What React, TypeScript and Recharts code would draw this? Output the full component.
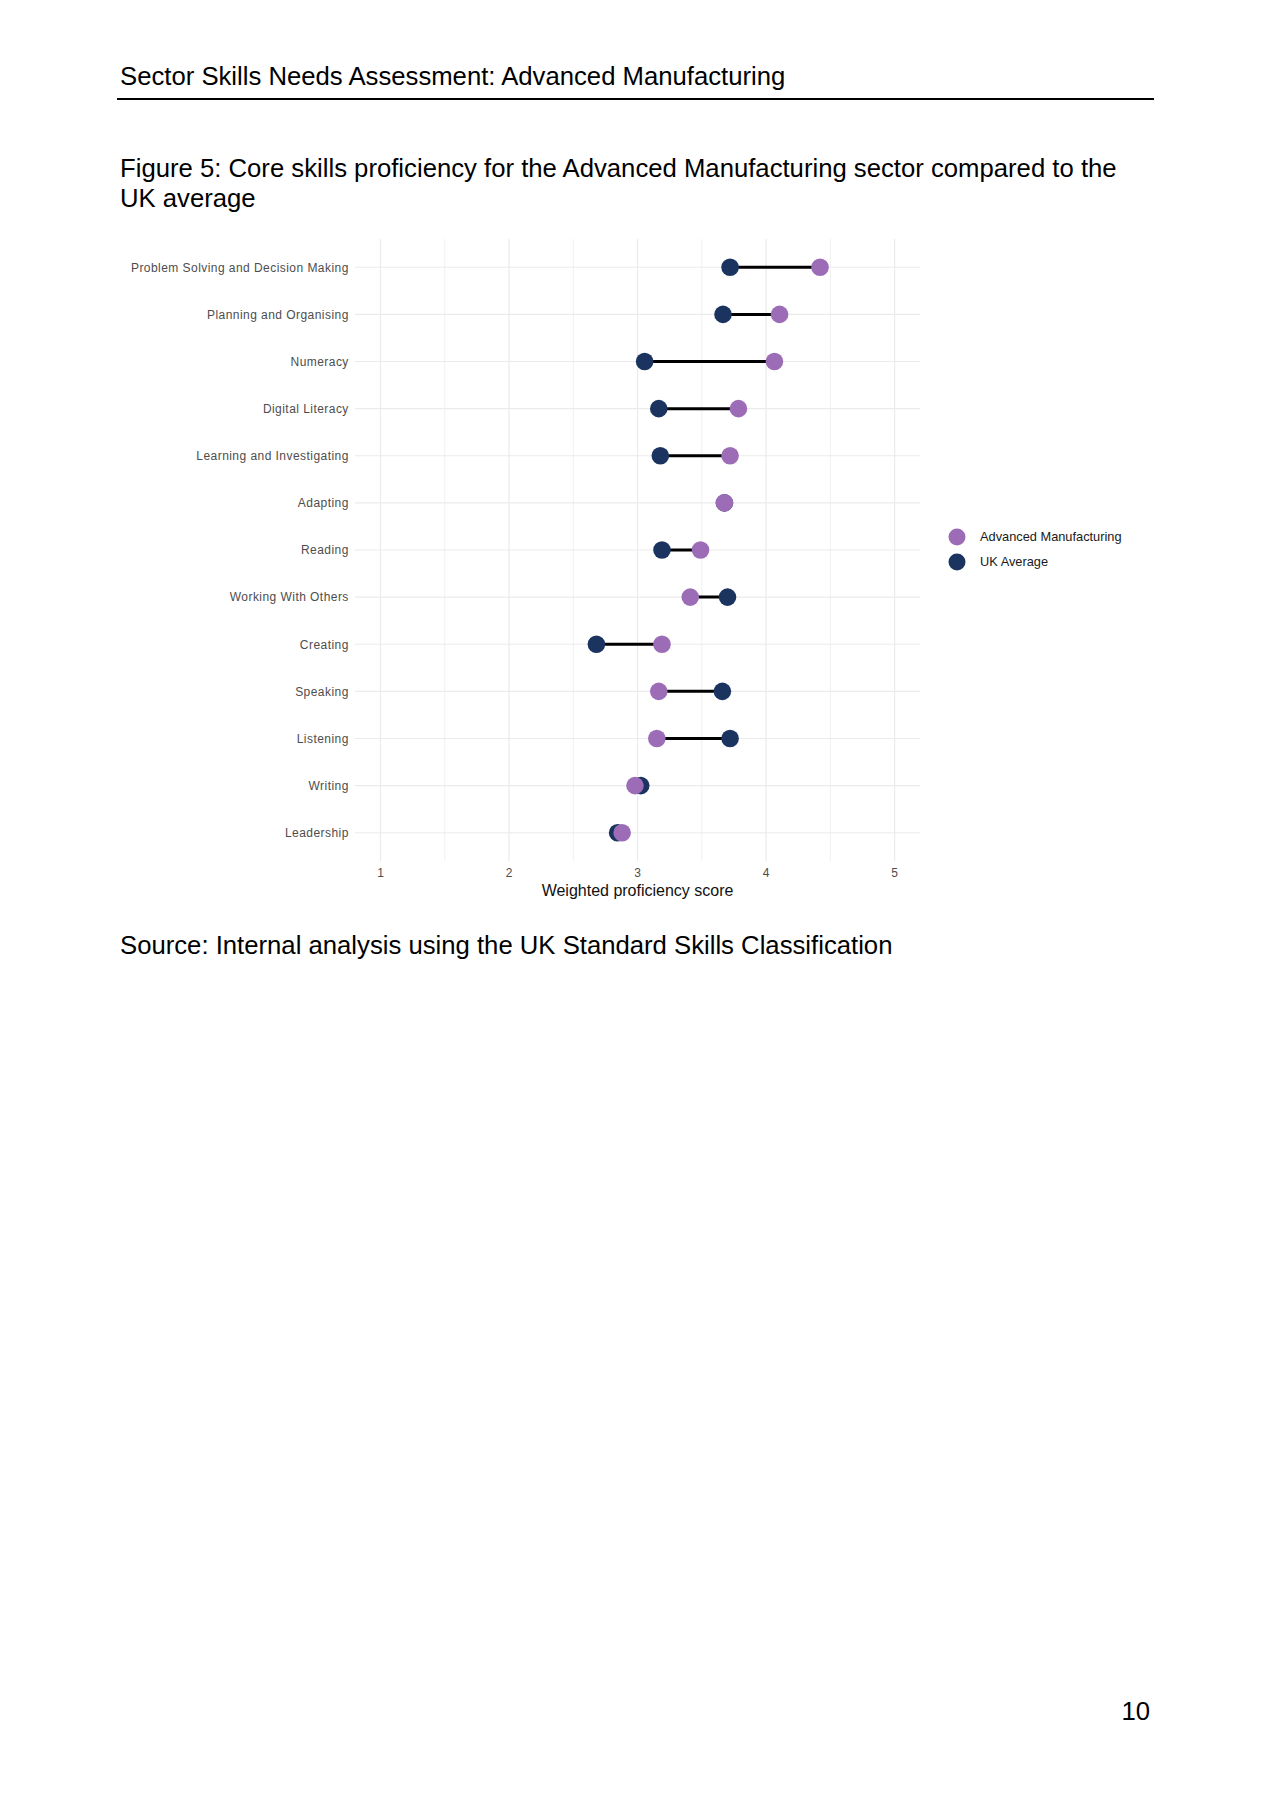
import React from 'react';
import { ScatterChart, Scatter, XAxis, YAxis, ReferenceLine, Legend } from 'recharts';

const skills = [
  'Problem Solving and Decision Making',
  'Planning and Organising',
  'Numeracy',
  'Digital Literacy',
  'Learning and Investigating',
  'Adapting',
  'Reading',
  'Working With Others',
  'Creating',
  'Speaking',
  'Listening',
  'Writing',
  'Leadership',
];
const advancedManufacturing = [4.42, 4.105, 4.065, 3.785, 3.72, 3.676, 3.49, 3.41, 3.19, 3.165, 3.15, 2.98, 2.88];
const ukAverage = [3.72, 3.665, 3.055, 3.165, 3.177, 3.676, 3.19, 3.70, 2.68, 3.66, 3.72, 3.025, 2.845];
const xTicks = [1, 2, 3, 4, 5];
const xMinorTicks = [1.5, 2.5, 3.5, 4.5];
const xDomain = [0.8, 5.2];
const seriesNames = ['Advanced Manufacturing', 'UK Average'];
const seriesColors = ['#9c6db6', '#1b335f'];

const FONT = '"Liberation Sans", Arial, Helvetica, sans-serif';

const amData = skills.map((s, i) => ({ x: advancedManufacturing[i], y: i, skill: s }));
const ukData = skills.map((s, i) => ({ x: ukAverage[i], y: i, skill: s }));
const yIdx = skills.map((_, i) => i);

const makeDot = (color: string) => (props: any) => (
  <circle cx={props.cx} cy={props.cy} r={8.8} fill={color} />
);

const YTick = (props: any) => {
  const { x, y, payload } = props;
  return (
    <text x={x} y={y} dy="0.36em" textAnchor="end" fill="#4d4d4d" fontSize={12} letterSpacing={0.45} fontFamily={FONT}>
      {skills[payload.value]}
    </text>
  );
};

const LegendContent = () => (
  <div style={{ fontFamily: FONT }}>
    {seriesNames.map((n, i) => (
      <div key={n} style={{ display: 'flex', alignItems: 'center', height: 25 }}>
        <svg width={22} height={22} style={{ display: 'block' }}>
          <circle cx={11} cy={11} r={8.5} fill={seriesColors[i]} />
        </svg>
        <span style={{ marginLeft: 12, fontSize: 12.8, color: '#1a1a1a' }}>{n}</span>
      </div>
    ))}
  </div>
);

const textStyle: React.CSSProperties = {
  position: 'absolute',
  fontFamily: FONT,
  fontSize: 25.7,
  lineHeight: '30px',
  color: '#000',
  whiteSpace: 'nowrap',
};

export default function App() {
  return (
    <div style={{ position: 'absolute', left: 0, top: 0, width: 1273, height: 1800, background: '#fff', overflow: 'hidden' }}>
      <div style={{ ...textStyle, left: 120, top: 61 }}>Sector Skills Needs Assessment: Advanced Manufacturing</div>
      <div style={{ position: 'absolute', left: 117, top: 98, width: 1037, height: 1.5, background: '#000' }} />
      <div style={{ ...textStyle, left: 120, top: 153 }}>
        Figure 5: Core skills proficiency for the Advanced Manufacturing sector compared to the
        <br />
        UK average
      </div>
      <div style={{ ...textStyle, left: 120, top: 930 }}>Source: Internal analysis using the UK Standard Skills Classification</div>
      <div style={{ ...textStyle, right: 123, top: 1696, textAlign: 'right' }}>10</div>

      <div style={{ position: 'absolute', left: 0, top: 0 }}>
        <ScatterChart width={1273} height={920} margin={{ top: 239, right: 352.7, bottom: 24, left: 124.8 }}>
          {xMinorTicks.map((v) => (
            <ReferenceLine key={'m' + v} x={v} stroke="#f0f0f0" strokeWidth={1} />
          ))}
          {xTicks.map((v) => (
            <ReferenceLine key={'M' + v} x={v} stroke="#ebebeb" strokeWidth={1.2} />
          ))}
          {yIdx.map((v) => (
            <ReferenceLine key={'h' + v} y={v} stroke="#ebebeb" strokeWidth={1.2} />
          ))}
          <XAxis
            type="number"
            dataKey="x"
            domain={xDomain}
            ticks={xTicks}
            axisLine={false}
            tickLine={false}
            tickSize={5}
            tickMargin={2}
            height={35}
            tick={{ fill: '#4d4d4d', fontSize: 12, fontFamily: FONT }}
            label={{ value: 'Weighted proficiency score', position: 'insideBottom', offset: 0, fill: '#111', fontSize: 16, fontFamily: FONT }}
            allowDataOverflow
          />
          <YAxis
            type="number"
            dataKey="y"
            domain={[-0.6, 12.6]}
            ticks={yIdx}
            interval={0}
            reversed
            axisLine={false}
            tickLine={false}
            tickSize={0}
            tickMargin={6}
            width={230}
            tick={<YTick />}
            allowDataOverflow
          />
          {skills.map((s, i) => (
            <ReferenceLine
              key={'seg' + i}
              segment={[
                { x: ukAverage[i], y: i },
                { x: advancedManufacturing[i], y: i },
              ]}
              stroke="#000"
              strokeWidth={3}
            />
          ))}
          <Scatter name={seriesNames[1]} data={ukData} fill={seriesColors[1]} shape={makeDot(seriesColors[1])} isAnimationActive={false} />
          <Scatter name={seriesNames[0]} data={amData} fill={seriesColors[0]} shape={makeDot(seriesColors[0])} isAnimationActive={false} />
          <Legend
            layout="vertical"
            align="center"
            verticalAlign="middle"
            content={<LegendContent />}
            wrapperStyle={{ position: 'absolute', left: 946, top: 524, width: 240, height: 50 }}
          />
        </ScatterChart>
      </div>
    </div>
  );
}
